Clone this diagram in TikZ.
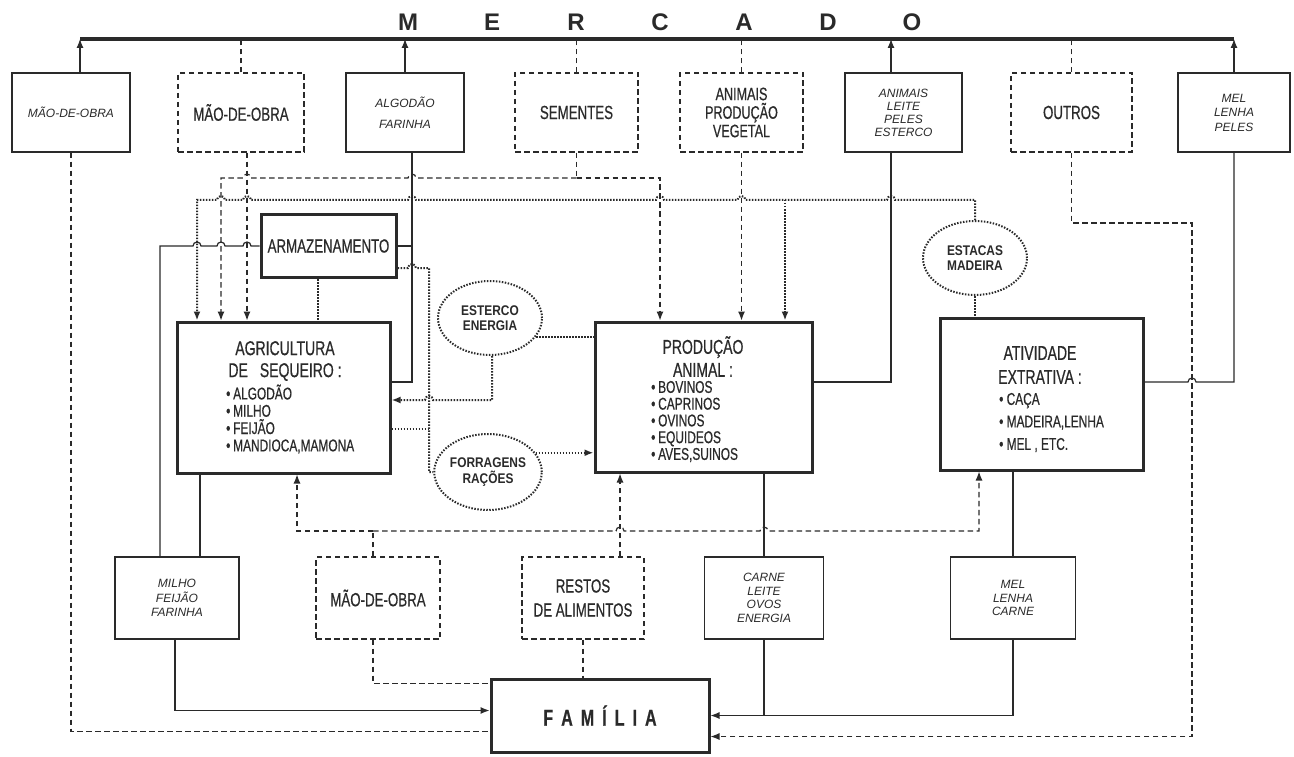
\documentclass[tikz,border=0pt]{standalone}
\usepackage{fontspec}
\setmainfont{Liberation Sans}
\newfontfamily\condf[FakeStretch=0.7,FakeBold=0.5]{Liberation Sans}
\newfontfamily\ellf[FakeStretch=0.85]{Liberation Sans}
\usetikzlibrary{arrows.meta,shapes.geometric}
\definecolor{ink}{HTML}{2A2A2A}
\newcommand\jr[2]{-- ({#1-4},#2) arc[start angle=180,end angle=0,radius=4pt]}
\newcommand\jl[2]{-- ({#1+4},#2) arc[start angle=0,end angle=180,radius=4pt]}
\tikzset{
 sl/.style={draw=ink,line width=1.2pt},
 dl/.style={draw=ink,line width=1.2pt,dash pattern=on 5.5pt off 3.5pt},
 ol/.style={draw=ink,line width=2pt,dash pattern=on 1.5pt off 1.5pt},
 arr/.style={-{Latex[length=9pt,width=7pt]}},
 bus/.style={draw=ink,line width=3.4pt},
 sbox/.style={draw=ink,line width=1.2pt,inner sep=0pt,align=center,text=ink},
 dbox/.style={sbox,dash pattern=on 5.5pt off 3.5pt},
 mbox/.style={draw=ink,line width=3pt,inner sep=0pt,align=center,text=ink},
 ell/.style={ellipse,ol,inner sep=0pt,minimum width=104pt,minimum height=74pt,align=center,text=ink,font=\ellf\bfseries\fontsize{14}{15.5}\selectfont},
 ttl/.style={text=ink,inner sep=0pt,font=\fontsize{24}{26}\selectfont\bfseries},
 itx/.style={font=\fontsize{12}{14}\selectfont\itshape},
 ctx/.style={font=\condf\fontsize{19}{22}\selectfont},
 hdr/.style={align=center,text=ink,inner sep=0pt},
 lst/.style={align=left,text=ink,inner sep=0pt,anchor=west},
}
\begin{document}
\begin{tikzpicture}[x=1pt,y=-1pt]
\fill[white] (0,0) rectangle (1294,757);
\useasboundingbox (0,0) rectangle (1294,757);

% title
\foreach \l [count=\i] in {M,E,R,C,A,D,O} \node[ttl] (t\i) at ({408+84*(\i-1)},22) {\l};
\coordinate (busL) at (80,39);
\coordinate (busR) at (1234,39);
\draw[bus] (busL) -- (busR);

% top boxes
\node[sbox,minimum width=118pt,minimum height=79pt,itx] (mob1) at (71,112.5) {MÃO-DE-OBRA};
\node[dbox,minimum width=126pt,minimum height=79pt,ctx] (mob2) at (241,112.5) {MÃO-DE-OBRA};
\node[sbox,minimum width=118pt,minimum height=79pt,font=\fontsize{12}{21}\selectfont\itshape] (alg) at (405,112.5) {ALGODÃO\\FARINHA};
\node[dbox,minimum width=123pt,minimum height=79pt,ctx] (sem) at (576.5,112.5) {SEMENTES};
\node[dbox,minimum width=123pt,minimum height=79pt,font=\condf\fontsize{18}{18.5}\selectfont] (apv) at (741.5,112.5) {ANIMAIS\\PRODUÇÃO\\VEGETAL};
\node[sbox,minimum width=117pt,minimum height=79pt,font=\fontsize{12}{13}\selectfont\itshape] (alpe) at (903.5,112.5) {ANIMAIS\\LEITE\\PELES\\ESTERCO};
\node[dbox,minimum width=121pt,minimum height=79pt,ctx] (out) at (1071.5,112.5) {OUTROS};
\node[sbox,minimum width=112pt,minimum height=79pt,font=\fontsize{12}{14.5}\selectfont\itshape] (mlp) at (1234,112.5) {MEL\\LENHA\\PELES};

% main boxes
\node[mbox,minimum width=135pt,minimum height=63pt,ctx] (armaz) at (328.5,246) {ARMAZENAMENTO};
\node[mbox,minimum width=213pt,minimum height=151pt] (agri) at (283.5,397.5) {};
\node[hdr,font=\condf\fontsize{20}{22}\selectfont] (agriH) at (285,361) {AGRICULTURA\\DE\hspace{12pt}SEQUEIRO :};
\node[lst,font=\condf\fontsize{17}{17.3}\selectfont] (agriL) at (226,419) {\textbullet\,ALGODÃO\\\textbullet\,MILHO\\\textbullet\,FEIJÃO\\\textbullet\,MANDIOCA,MAMONA};
\node[mbox,minimum width=217pt,minimum height=150pt] (pa) at (703.5,397) {};
\node[hdr,font=\condf\fontsize{20}{23}\selectfont] (paH) at (703,356.5) {PRODUÇÃO\\ANIMAL :};
\node[lst,font=\condf\fontsize{17}{16.75}\selectfont] (paL) at (651,421.5) {\textbullet\,BOVINOS\\\textbullet\,CAPRINOS\\\textbullet\,OVINOS\\\textbullet\,EQUIDEOS\\\textbullet\,AVES,SUINOS};
\node[mbox,minimum width=203pt,minimum height=152pt] (ae) at (1041.5,394) {};
\node[hdr,font=\condf\fontsize{20}{24}\selectfont] (aeH) at (1040,365) {ATIVIDADE\\EXTRATIVA :};
\node[lst,font=\condf\fontsize{17}{22.5}\selectfont] (aeL) at (999,422.5) {\textbullet\ CAÇA\\\textbullet\ MADEIRA,LENHA\\\textbullet\ MEL , ETC.};

% ellipses
\node[ell] (est) at (490,318) {ESTERCO\\ENERGIA};
\node[ell,minimum height=76pt] (forr) at (488,472) {FORRAGENS\\RAÇÕES};
\node[ell] (estc) at (975,258) {ESTACAS\\MADEIRA};

% bottom boxes
\node[sbox,minimum width=124pt,minimum height=82pt,font=\fontsize{12}{14.5}\selectfont\itshape] (mff) at (177,598) {MILHO\\FEIJÃO\\FARINHA};
\node[dbox,minimum width=124pt,minimum height=82pt,ctx] (mob3) at (378,598) {MÃO-DE-OBRA};
\node[dbox,minimum width=122pt,minimum height=82pt,font=\condf\fontsize{19}{24}\selectfont] (rest) at (583,598) {RESTOS\\DE ALIMENTOS};
\node[sbox,minimum width=119pt,minimum height=82pt,font=\fontsize{12}{13.5}\selectfont\itshape] (clo) at (764,598) {CARNE\\LEITE\\OVOS\\ENERGIA};
\node[sbox,minimum width=125pt,minimum height=82pt,font=\fontsize{12}{13.5}\selectfont\itshape] (mlc) at (1013,598) {MEL\\LENHA\\CARNE};

% family
\node[mbox,minimum width=218pt,minimum height=73pt,font=\condf\bfseries\fontsize{23}{24}\selectfont] (fam) at (600,715.5) {F\hspace{8pt}A\hspace{8pt}M\hspace{8pt}Í\hspace{8pt}L\hspace{8pt}I\hspace{8pt}A};

% helper coordinates
\coordinate (famL1) at ([yshift=-6pt]fam.north west);
\coordinate (famL2) at ([yshift=5pt]fam.west);
\coordinate (famL3) at ([yshift=-16pt]fam.west);
\coordinate (famR2) at ([yshift=-21pt]fam.east);
\coordinate (yA) at (0,178);
\coordinate (yB) at (0,200);
\coordinate (yC) at (0,382);
\coordinate (yD) at (0,268);
\coordinate (yE) at (0,429);
\coordinate (yF) at (0,400);
\coordinate (yG) at (0,223);
\coordinate (yH) at (0,531);
\coordinate (cO) at (1192,0);
\coordinate (cJ) at (429,0);
\coordinate (mob1T) at ([xshift=9pt]mob1.north);
\coordinate (alpeT) at ([xshift=-12.5pt]alpe.north);
\coordinate (alpeB) at ([xshift=-12.5pt]alpe.south);
\coordinate (mob2B) at ([xshift=6pt]mob2.south);
\coordinate (algB) at ([xshift=7pt]alg.south);
\coordinate (armB) at ([xshift=-10.5pt]armaz.south);
\coordinate (estB) at ([xshift=2pt]est.south);
\coordinate (mffA) at ([xshift=23pt]mff.north);
\coordinate (mffS) at ([xshift=-17pt]mff.north);
\coordinate (mffB) at ([xshift=-2pt]mff.south);
\coordinate (mob3T) at ([xshift=-5pt]mob3.north);
\coordinate (mob3B) at ([xshift=-5pt]mob3.south);
\coordinate (restT) at ([xshift=37pt]rest.north);
\coordinate (agT1) at ([xshift=-86.5pt]agri.north);
\coordinate (agT2) at ([xshift=-62.5pt]agri.north);
\coordinate (paT1) at ([xshift=-43.5pt]pa.north);
\coordinate (paT3) at ([xshift=81.5pt]pa.north);
\coordinate (agB) at ([xshift=13.5pt]agri.south);
\coordinate (aeB) at ([xshift=-62.5pt]ae.south);
\coordinate (jE) at (785,200);
\coordinate (jL) at (373,531);

% to market
\draw[sl,arr] (mob1T) -- (mob1T |- busL);
\draw[dl] (mob2.north) -- (mob2.north |- busL);
\draw[sl,arr] (alg.north) -- (alg.north |- busL);
\draw[dl] (sem.north) -- (sem.north |- busL);
\draw[dl] (apv.north) -- (apv.north |- busL);
\draw[sl,arr] (alpeT) -- (alpeT |- busL);
\draw[dl] (out.north) -- (out.north |- busL);
\draw[sl,arr] (mlp.north) -- (mlp.north |- busL);

% labour to market from family
\draw[dl] (mob1.south) -- (mob1.south |- famL3) -- (famL3);
% labour bought -> agri
\draw[dl,arr] (mob2B) -- (mob2B |- agri.north);
% seeds
\draw[dl] (sem.south) -- (sem.south |- yA);
\draw[dl,arr] (sem.south |- yA) \jl{412}{178} \jl{247}{178} -- (agT2 |- yA) -- (agT2);
\draw[dl,arr] (sem.south |- yA) -- (paT1 |- yA) -- (paT1);
% estacas, madeira
\draw[ol,arr] (estc.north) -- (estc.north |- yB) \jl{891}{200} \jl{741.5}{200} \jl{660}{200} \jl{412}{200} \jl{247}{200} \jl{221}{200} -- (agT1 |- yB) -- (agT1);
\draw[ol,arr] (jE) -- (paT3);
% animais, producao vegetal
\draw[dl,arr] (apv.south) -- (apv.south |- pa.north);
% algodao farinha
\draw[sl] (algB) -- (algB |- yC) -- (agri.east |- yC);
\draw[sl] (armaz.east) -- (armaz.east -| algB);
% armazenamento
\draw[sl] (mffS) -- (mffS |- armaz.west) \jr{197}{246} \jr{221}{246} \jr{247}{246} -- (armaz.west);
\draw[ol] (armaz.east |- yD) \jr{412}{268} -- (cJ |- yD) -- (cJ |- forr.west) -- (forr.west);
\draw[ol] (agri.east |- yE) -- (cJ |- yE);
\draw[ol] (armB) -- (armB |- agri.north);
% esterco energia
\draw[ol,arr] (estB) -- (estB |- yF) \jl{429}{400} -- (agri.east |- yF);
\draw[ol] (est.-22) -- (est.-22 -| pa.west);
% forragens
\draw[ol,arr] (forr.22) -- (forr.22 -| pa.west);
% PA -> market
\draw[sl] (pa.east |- yC) -- (alpeB |- yC) -- (alpeB);
% estacas - AE
\draw[ol] (estc.south) -- (estc.south |- ae.north);
% AE -> market
\draw[sl] (ae.east |- yC) \jr{1192}{382} -- (mlp.south |- yC) -- (mlp.south);
% outros
\draw[dl,arr] (out.south) -- (out.south |- yG) -- (cO |- yG) -- (cO |- famR2) -- (famR2);
% AE -> family
\draw[sl] (mlc.north |- ae.south) -- (mlc.north);
\draw[sl,arr] (mlc.south) -- (mlc.south |- fam.east) -- (fam.east);
% PA -> family
\draw[sl] (clo.north |- pa.south) -- (clo.north);
\draw[sl] (clo.south) -- (clo.south |- fam.east);
% family labour
\draw[dl] (mob3T) -- (jL);
\draw[dl,arr] (jL) -- (agB |- yH) -- (agB);
\draw[dl,arr] (jL) \jr{620}{531} \jr{764}{531} -- (aeB |- yH) -- (aeB);
\draw[dl] (mob3B) -- (mob3B |- famL1) -- (famL1);
% restos
\draw[dl,arr] (restT) -- (restT |- pa.south);
\draw[dl] (rest.south) -- (rest.south |- fam.north);
% agri -> family
\draw[sl] (mffA |- agri.south) -- (mffA);
\draw[sl,arr] (mffB) -- (mffB |- famL2) -- (famL2);
\end{tikzpicture}
\end{document}
